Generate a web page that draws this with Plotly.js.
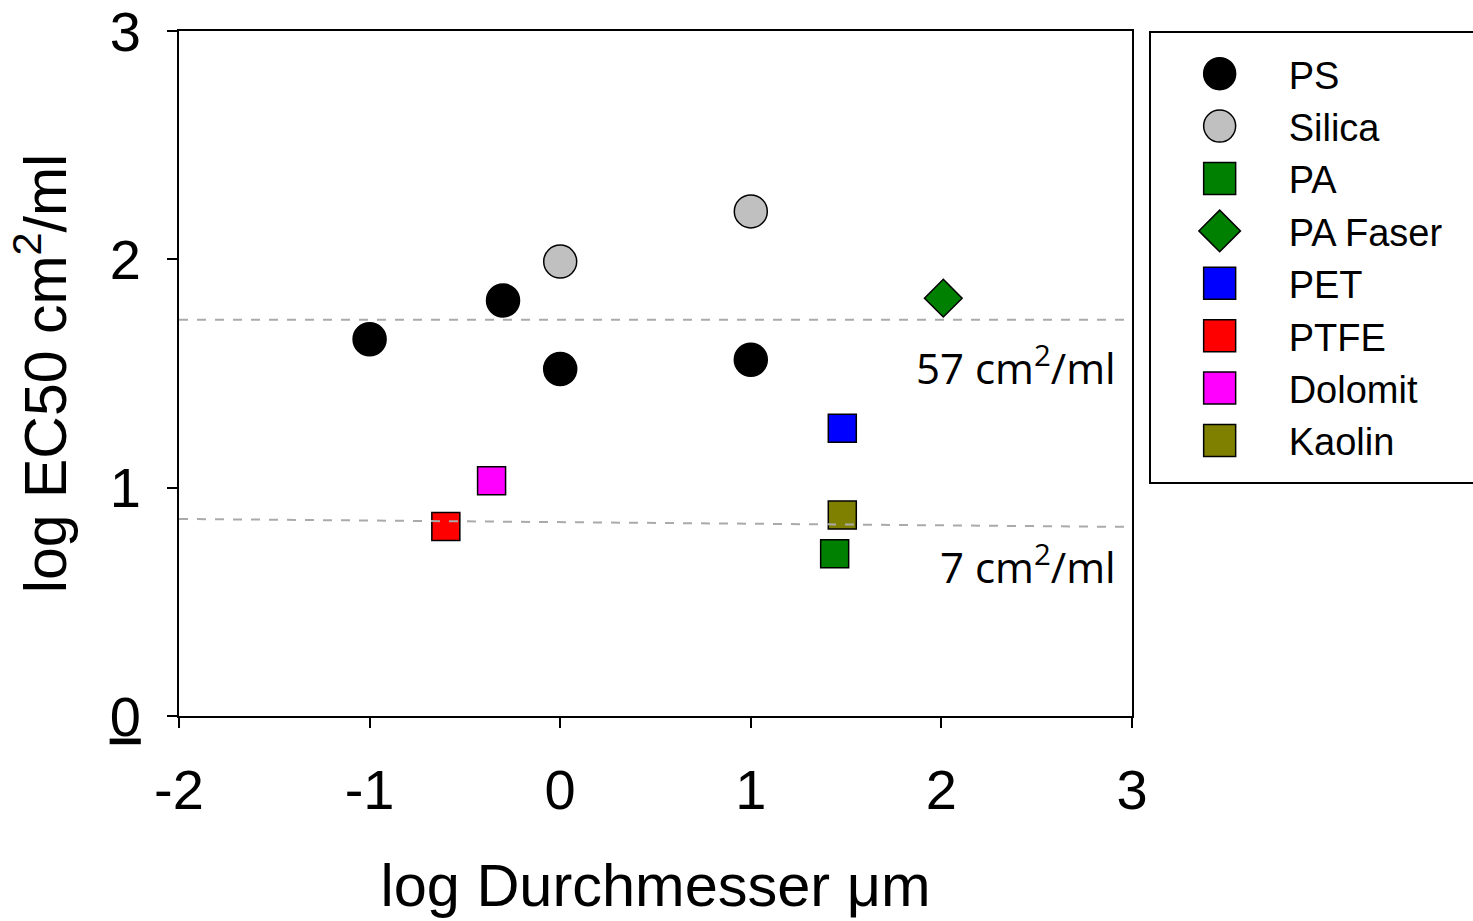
<!DOCTYPE html>
<html><head><meta charset="utf-8">
<script src="https://cdn.plot.ly/plotly-3.0.1.min.js"></script>
<style>html,body{margin:0;padding:0;background:#fff;}</style>
</head><body>
<div id="chart" style="width:1473px;height:921px;"></div>
<script>
// ---- data ----
const seriesNames = ["PS", "Silica", "PA", "PA Faser", "PET", "PTFE", "Dolomit", "Kaolin"];
const psX = [-1, -0.3, 0, 1];
const psY = [1.65, 1.82, 1.52, 1.56];
const silicaX = [0, 1];
const silicaY = [1.99, 2.21];
const paX = [1.44];
const paY = [0.71];
const paFaserX = [2.01];
const paFaserY = [1.83];
const petX = [1.48];
const petY = [1.26];
const ptfeX = [-0.6];
const ptfeY = [0.83];
const dolomitX = [-0.36];
const dolomitY = [1.03];
const kaolinX = [1.48];
const kaolinY = [0.88];
// reference lines (x start, x end, y start, y end)
const lineXs = [-2, 3];
const upperLineY = [1.735, 1.735];
const lowerLineY = [0.863, 0.828];
const lineLabels = ["57 cm<sup>2</sup>/ml", "7 cm<sup>2</sup>/ml"];
const xTicks = [-2, -1, 0, 1, 2, 3];
const yTicks = [0, 1, 2, 3];
const yTickText = ['<span style="text-decoration:underline">0</span>', "1", "2", "3"];

// ---- styles ----
const styles = [
  {symbol: "circle", color: "#000000", size: 33},
  {symbol: "circle", color: "#c0c0c0", size: 33},
  {symbol: "square", color: "#008000", size: 28},
  {symbol: "diamond", color: "#008000", size: 29},
  {symbol: "square", color: "#0000ff", size: 28},
  {symbol: "square", color: "#ff0000", size: 28},
  {symbol: "square", color: "#ff00ff", size: 28},
  {symbol: "square", color: "#808000", size: 28}
];
const xs = [psX, silicaX, paX, paFaserX, petX, ptfeX, dolomitX, kaolinX];
const ys = [psY, silicaY, paY, paFaserY, petY, ptfeY, dolomitY, kaolinY];

const traces = seriesNames.map((n, i) => ({
  type: "scatter", mode: "markers", name: n, x: xs[i], y: ys[i],
  marker: {symbol: styles[i].symbol, color: styles[i].color, size: styles[i].size,
           line: {color: "#000", width: 1.5}},
  cliponaxis: false
}));

const F = "Arial, 'Liberation Sans', sans-serif";
const AF = "'Open Sans', 'Noto Sans', sans-serif";
const layout = {
  width: 1473, height: 921,
  margin: {l: 179, r: 341, t: 31, b: 205},
  paper_bgcolor: "#fff", plot_bgcolor: "#fff",
  showlegend: true,
  legend: {x: 1.018, y: 1, xanchor: "left", yanchor: "top",
           bordercolor: "#000", borderwidth: 1.5, bgcolor: "#fff",
           font: {family: F, size: 38, color: "#000"}, itemwidth: 128,
           tracegroupgap: 0},
  xaxis: {range: [-2, 3], tickvals: xTicks, ticktext: xTicks.map(String),
          ticks: "outside", ticklen: 10, tickwidth: 2, tickcolor: "#000",
          showline: true, linecolor: "#000", linewidth: 2, mirror: true,
          showgrid: false, zeroline: false,
          tickfont: {family: F, size: 56, color: "#000"}, ticklabelstandoff: 14,
          title: {text: "log Durchmesser μm", font: {family: F, size: 59.5, color: "#000"}, standoff: 44}},
  yaxis: {range: [-0.0001, 3.0001], tickvals: yTicks, ticktext: yTickText,
          ticks: "outside", ticklen: 10, tickwidth: 2, tickcolor: "#000",
          showline: true, linecolor: "#000", linewidth: 2, mirror: true,
          showgrid: false, zeroline: false, ticklabeloverflow: "allow",
          tickfont: {family: F, size: 56, color: "#000"}, ticklabelstandoff: 15,
          title: {text: "log EC50 cm<sup>2</sup>/ml", font: {family: F, size: 59, color: "#000"}, standoff: 24}},
  shapes: [
    {type: "line", xref: "x", yref: "y", x0: lineXs[0], x1: lineXs[1], y0: upperLineY[0], y1: upperLineY[1],
     line: {color: "#aaaaaa", width: 2, dash: "dash"}, layer: "above"},
    {type: "line", xref: "x", yref: "y", x0: lineXs[0], x1: lineXs[1], y0: lowerLineY[0], y1: lowerLineY[1],
     line: {color: "#aaaaaa", width: 2, dash: "dash"}, layer: "above"}
  ],
  annotations: [
    {xref: "paper", yref: "y", x: 0.985, y: upperLineY[1] - 0.2, xanchor: "right", yanchor: "middle",
     text: lineLabels[0], showarrow: false, font: {family: AF, size: 42, color: "#000"}},
    {xref: "paper", yref: "y", x: 0.985, y: lowerLineY[1] - 0.165, xanchor: "right", yanchor: "middle",
     text: lineLabels[1], showarrow: false, font: {family: AF, size: 42, color: "#000"}}
  ]
};

Plotly.newPlot("chart", traces, layout, {staticPlot: true}).then(() => {
  document.querySelectorAll(".legend .legendpoints path.scatterpts").forEach(p => {
    const t = p.getAttribute("transform") || "";
    p.setAttribute("transform", t + " scale(2)");
    p.style.strokeWidth = "0.75px";
  });
  const bg = document.querySelector(".legend rect.bg");
  if (bg) { bg.setAttribute("height", "451"); bg.setAttribute("width", "345"); }
  const sb = document.querySelector(".legend g.scrollbox");
  if (sb) sb.setAttribute("transform", "translate(0,10)");
});
</script>
</body></html>
